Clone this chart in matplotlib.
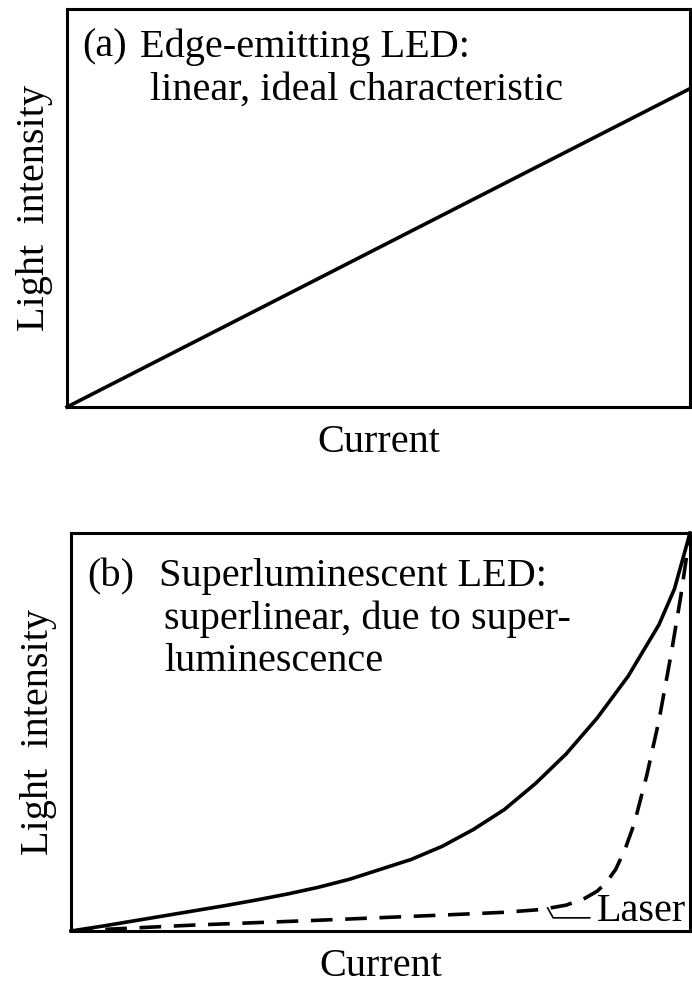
import numpy as np
import matplotlib
matplotlib.use("Agg")
import matplotlib.pyplot as plt

plt.rcParams['font.family'] = ['Liberation Serif', 'DejaVu Serif']

# (a) edge-emitting LED: straight line
led_current = [0.0, 1.0]
led_light = [0.0, 0.80]

# (b) superluminescent LED (solid)
sld_current = [0.0, 0.05, 0.1, 0.15, 0.2, 0.25, 0.3, 0.35, 0.4, 0.45, 0.5, 0.55,
               0.6, 0.65, 0.7, 0.75, 0.8, 0.85, 0.9, 0.95, 0.975, 1.0]
sld_light = [0.0, 0.012, 0.025, 0.038, 0.051, 0.064, 0.078, 0.093, 0.11, 0.13, 0.155, 0.18,
             0.213, 0.255, 0.305, 0.37, 0.445, 0.535, 0.64, 0.77, 0.86, 1.0]

# laser (dashed)
laser_current = [0.0, 0.2, 0.4, 0.6, 0.7, 0.76, 0.8, 0.83, 0.85, 0.865, 0.88,
                 0.895, 0.91, 0.93, 0.95, 0.97, 0.985, 1.0]
laser_light = [0.0, 0.015, 0.027, 0.04, 0.047, 0.054, 0.065, 0.082, 0.1, 0.122, 0.155,
               0.205, 0.27, 0.39, 0.53, 0.70, 0.84, 1.0]

# leader line from "Laser" label to the dashed curve
leader_x = [0.77, 0.779, 0.838]
leader_y = [0.058, 0.033, 0.033]

FS = 29
LW = 2.6

fig = plt.figure(figsize=(6.92, 9.92), dpi=100)

def style(ax):
    ax.set_xlim(0, 1)
    ax.set_ylim(0, 1)
    ax.set_xticks([])
    ax.set_yticks([])
    for s in ax.spines.values():
        s.set_linewidth(2.2)
    ax.set_xlabel('Current', fontsize=FS, labelpad=12)
    ax.set_ylabel('Light  intensity', fontsize=FS, labelpad=10)

ax1 = fig.add_axes([0.0968, 0.5897, 0.9003, 0.4012])
style(ax1)
ax1.plot(led_current, led_light, color='black', lw=LW, clip_on=False)
ax1.text(0.024, 0.905, '(a)', fontsize=FS, va='center', transform=ax1.transAxes)
ax1.text(0.117, 0.905, 'Edge-emitting LED:', fontsize=FS, va='center', transform=ax1.transAxes)
ax1.text(0.133, 0.797, 'linear, ideal characteristic', fontsize=FS, va='center', transform=ax1.transAxes)

ax2 = fig.add_axes([0.1026, 0.0615, 0.8945, 0.4012])
style(ax2)
ax2.plot(sld_current, sld_light, color='black', lw=LW, clip_on=False)
ax2.plot(laser_current, laser_light, color='black', lw=LW, ls=(0, (6, 3.5)), clip_on=False)
ax2.plot(leader_x, leader_y, color='black', lw=1.2, clip_on=False)
ax2.text(0.85, 0.048, 'Laser', fontsize=FS, va='center', clip_on=False)
ax2.text(0.027, 0.89, '(b)', fontsize=FS, va='center', transform=ax2.transAxes)
ax2.text(0.142, 0.89, 'Superluminescent LED:', fontsize=FS, va='center', transform=ax2.transAxes)
ax2.text(0.15, 0.783, 'superlinear, due to super-', fontsize=FS, va='center', transform=ax2.transAxes)
ax2.text(0.15, 0.677, 'luminescence', fontsize=FS, va='center', transform=ax2.transAxes)

fig.savefig('out.png', dpi=100)
